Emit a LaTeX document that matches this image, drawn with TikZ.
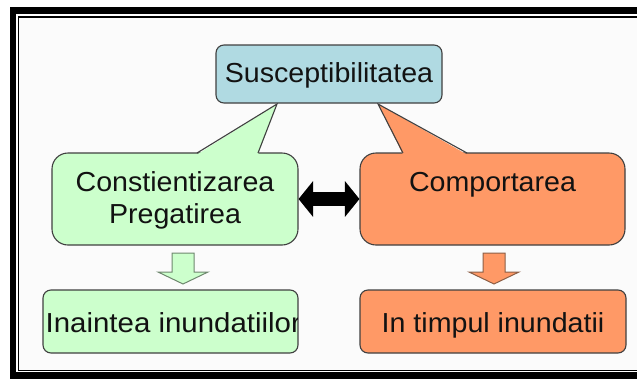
\documentclass[tikz,border=0pt]{standalone}
\usepackage{fontspec}
\setmainfont[FakeStretch=1.04]{Liberation Sans}
\newfontfamily\widefont[FakeStretch=1.07]{Liberation Sans}
\usetikzlibrary{arrows.meta}
\definecolor{paper}{RGB}{251,251,251}
\definecolor{skyfill}{RGB}{176,218,226}
\definecolor{mintfill}{RGB}{204,255,204}
\definecolor{peachfill}{RGB}{255,153,102}
\definecolor{edgec}{RGB}{64,64,64}
\definecolor{mintedge}{RGB}{110,135,110}
\definecolor{peachedge}{RGB}{140,95,70}
\definecolor{inkc}{RGB}{18,18,18}
\begin{document}
\begin{tikzpicture}[x=1pt,y=-1pt,
  every node/.style={font=\fontsize{27.5}{32.5}\selectfont, text=inkc},
  box/.style={draw=edgec, line width=1.1pt, rounded corners=8pt, inner sep=0pt},
  bubble/.style={draw=edgec, line width=1.1pt, rounded corners=16pt, inner sep=0pt, minimum height=92pt},
  words/.style={inner sep=0pt, anchor=base},
  wedge/.style={draw=edgec, line width=1.1pt, line join=miter},
  blockarrow/.style={line width=1pt, line join=miter}]
\useasboundingbox (0,0) rectangle (637,378);
\fill[white] (0,0) rectangle (637,378);
% page frame
\fill[paper] (18.3,17) rectangle (660,370.2);
\draw[line width=6.5pt] (13,10.3) rectangle (660,375.5);
\draw[line width=1.4pt] (18.3,17) rectangle (660,370.2);

% speech bubbles with their pointers
\node[bubble, fill=mintfill, minimum width=246pt] (aware) at (175,199) {};
\fill[mintfill] (197,154.6) -- (277,104) -- (258,154.6) -- cycle;
\draw[wedge] (197,153) -- (277,104) -- (258,153);

\node[bubble, fill=peachfill, minimum width=265pt] (behave) at (492.5,199) {};
\fill[peachfill] (403,154.6) -- (378,104) -- (467,154.6) -- cycle;
\draw[wedge] (403,153) -- (378,104) -- (467,153);

% top box
\node[box, fill=skyfill, minimum width=226pt, minimum height=58pt] (susc) at (329,74) {};
\node[words] (susctxt) at (329,82) {Susceptibilitatea};

\node[words] (awareA) at (175,191) {Constientizarea};
\node[words] (awareB) at (175,223.5) {Pregatirea};
\node[words] (behavetxt) at (492.5,191) {Comportarea};

% link between the two bubbles
\draw[line width=14pt, {Triangle[width=35pt,length=14.5pt]}-{Triangle[width=35pt,length=14.5pt]}]
  (aware.east) -- (behave.west);

% block arrows pointing down
\filldraw[blockarrow, fill=mintfill, draw=mintedge]
  (172,253) -- (194,253) -- (194,272) -- (208,272) -- (183,284) -- (158,272) -- (172,272) -- cycle;
\filldraw[blockarrow, fill=peachfill, draw=peachedge]
  (483,253) -- (505,253) -- (505,272) -- (519,272) -- (494,284) -- (469,272) -- (483,272) -- cycle;

% bottom boxes
\node[box, fill=mintfill, minimum width=255pt, minimum height=63pt] (before) at (170.5,321.5) {};
\begin{scope}
  \clip (43.6,290.6) rectangle (297.4,352.4);
  \node[words, anchor=base west, font=\widefont\fontsize{27.5}{32.5}\selectfont] (beforetxt) at (45.5,332) {Inaintea inundatiilor};
\end{scope}
\node[box, fill=peachfill, minimum width=266pt, minimum height=63pt] (during) at (493,321.5) {};
\node[words] (duringtxt) at (493,332.5) {In timpul inundatii};
\end{tikzpicture}
\end{document}
